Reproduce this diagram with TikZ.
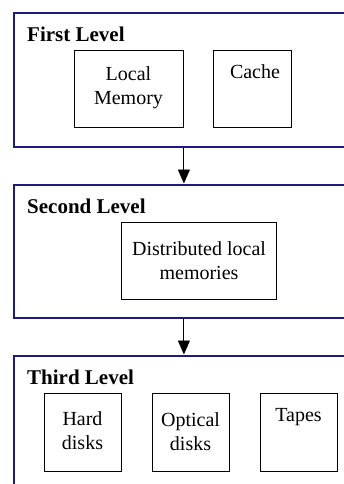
\documentclass[tikz,border=0pt]{standalone}
\usepackage{fontspec}
\setmainfont{Liberation Serif}
\usetikzlibrary{arrows.meta}
\definecolor{navy}{RGB}{28,28,128}
\begin{document}
\begin{tikzpicture}[x=1pt,y=-1pt,
 level/.style={draw=navy, line width=2pt, rectangle, inner sep=0pt, anchor=north west},
 unit/.style={draw=black, line width=0.9pt, rectangle, inner sep=0pt, anchor=north west},
 title/.style={font=\fontsize{21}{25}\selectfont\bfseries, anchor=base west, inner sep=0pt},
 txt/.style={font=\fontsize{20}{24}\selectfont, anchor=base, inner sep=0pt, align=center},
 flow/.style={line width=0.9pt, -{Triangle[width=12pt,length=14pt]}}]
\useasboundingbox (0,0) rectangle (344,484);
\begin{scope}
\clip (0,0) rectangle (344,484);
% levels
\node[level, minimum width=360pt, minimum height=133.5pt] (L1) at (13,12.5) {};
\node[level, minimum width=360pt, minimum height=133.5pt] (L2) at (13,183.5) {};
\node[level, minimum width=360pt, minimum height=200pt] (L3) at (13,354.5) {};
\end{scope}
% titles
\node[title] (T1) at (27,42) {First Level};
\node[title] (T2) at (27,213) {Second Level};
\node[title] (T3) at (27,384) {Third Level};
% first level units (base anchor = last line baseline)
\node[unit, minimum width=109pt, minimum height=77pt] (LM) at (74,50) {};
\node[txt] (LMt) at (128.5,105) {Local\\Memory};
\node[unit, minimum width=78pt, minimum height=77pt] (CA) at (213,50) {};
\node[txt] (CAt) at (255,79) {Cache};
% second level unit
\node[unit, minimum width=155pt, minimum height=77pt] (DM) at (121,222) {};
\node[txt] (DMt) at (199,279) {Distributed local\\memories};
% third level units
\node[unit, minimum width=77pt, minimum height=78pt] (HD) at (44,393) {};
\node[txt] (HDt) at (82.5,449) {Hard\\disks};
\node[unit, minimum width=77pt, minimum height=78pt] (OD) at (152,393) {};
\node[txt] (ODt) at (190.5,450) {Optical\\disks};
\node[unit, minimum width=77pt, minimum height=78pt] (TP) at (260,393) {};
\node[txt] (TPt) at (298.5,421) {Tapes};
% arrows
\draw[flow] (L1.south -| LM.east) -- (L2.north -| LM.east);
\draw[flow] (L2.south -| LM.east) -- (L3.north -| LM.east);
\end{tikzpicture}
\end{document}
